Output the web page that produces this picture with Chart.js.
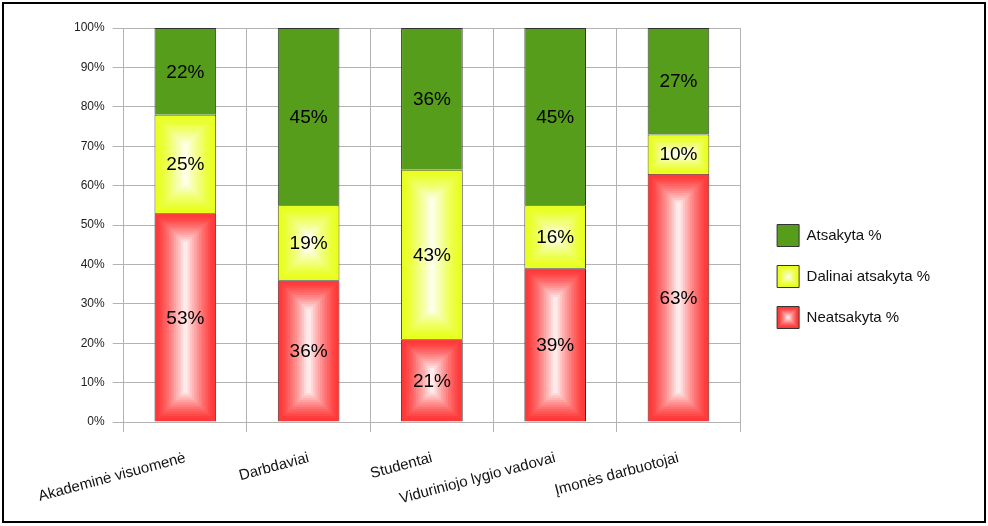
<!DOCTYPE html>
<html lang="lt">
<head>
    <meta charset="UTF-8">
    <title>Atsakymai</title>
    <script src="https://cdn.jsdelivr.net/npm/chart.js"></script>
    <style>
        body { margin: 0; background: #fff; }
        .wrap { position: relative; width: 988px; height: 526px; }
        .frame {
            position: absolute; left: 2px; top: 2px;
            width: 980px; height: 517px;
            border: 2px solid #000;
            pointer-events: none;
        }
    </style>
</head>
<body>
    <div class="wrap">
        <canvas id="chart" width="988" height="526"></canvas>
        <div class="frame"></div>
    </div>

    <script>
        const categories = ['Akademinė visuomenė', 'Darbdaviai', 'Studentai', 'Viduriniojo lygio vadovai', 'Įmonės darbuotojai'];
        const neatsakyta = [53, 36, 21, 39, 63];
        const dalinai = [25, 19, 43, 16, 10];
        const atsakyta = [22, 45, 36, 45, 27];
        const yTicks = [0, 10, 20, 30, 40, 50, 60, 70, 80, 90, 100];

        const FONT = '"Liberation Sans", Arial, sans-serif';

        // edge colour -> white, drawn as nested rectangles inside each bar
        function mix(c, t) {
            return 'rgb(' + c.map(v => Math.round(v + (255 - v) * t)).join(',') + ')';
        }

        function boxGradient(ctx, left, top, w, h, edge) {
            const steps = 13;
            const half = Math.min(w, h) / 2;
            for (let i = 0; i <= steps; i++) {
                const d = half * i / steps;
                const rw = w - 2 * d, rh = h - 2 * d;
                if (rw <= 0 || rh <= 0) break;
                ctx.fillStyle = mix(edge, Math.pow(i / steps, 1.3));
                ctx.fillRect(left + d, top + d, rw, Math.max(rh, 1));
            }
        }

        const gradientBars = {
            id: 'gradientBars',
            afterDatasetDraw(chart, args) {
                const ds = chart.data.datasets[args.index];
                if (!ds.edge) return;
                const ctx = chart.ctx;
                ctx.save();
                args.meta.data.forEach(el => {
                    const p = el.getProps(['x', 'y', 'base', 'width'], true);
                    const left = p.x - p.width / 2 + 1;
                    const top = Math.min(p.y, p.base) + 1;
                    boxGradient(ctx, left, top, p.width - 2, Math.abs(p.base - p.y) - 2, ds.edge);
                });
                ctx.restore();
            },
            afterDraw(chart) {
                // gradient legend boxes
                const legend = chart.legend;
                if (!legend || !legend.legendHitBoxes) return;
                const ctx = chart.ctx;
                ctx.save();
                legend.legendItems.forEach((item, i) => {
                    const ds = chart.data.datasets[item.datasetIndex];
                    const hb = legend.legendHitBoxes[i];
                    if (!ds.edge || !hb) return;
                    const bw = legend.options.labels.boxWidth;
                    const bh = legend.options.labels.boxHeight;
                    const top = hb.top + (hb.height - bh) / 2;
                    boxGradient(ctx, hb.left + 1, top + 1, bw - 2, bh - 2, ds.edge);
                });
                ctx.restore();
            }
        };

        const valueLabels = {
            id: 'valueLabels',
            afterDatasetsDraw(chart) {
                const ctx = chart.ctx;
                ctx.save();
                ctx.font = '19px ' + FONT;
                ctx.fillStyle = '#000';
                ctx.textAlign = 'center';
                ctx.textBaseline = 'middle';
                chart.data.datasets.forEach((ds, di) => {
                    chart.getDatasetMeta(di).data.forEach((el, i) => {
                        const c = el.getCenterPoint();
                        ctx.fillText(ds.data[i] + '%', c.x, c.y + 1);
                    });
                });
                ctx.restore();
            }
        };

        new Chart(document.getElementById('chart'), {
            type: 'bar',
            data: {
                labels: categories,
                datasets: [
                    {
                        label: 'Neatsakyta %',
                        data: neatsakyta,
                        backgroundColor: '#ff3838',
                        edge: [255, 56, 56],
                        borderColor: '#333',
                        borderWidth: 1
                    },
                    {
                        label: 'Dalinai atsakyta %',
                        data: dalinai,
                        backgroundColor: '#e8ff1e',
                        edge: [232, 255, 30],
                        borderColor: '#333',
                        borderWidth: 1
                    },
                    {
                        label: 'Atsakyta %',
                        data: atsakyta,
                        backgroundColor: '#579d1c',
                        borderColor: '#333',
                        borderWidth: 1
                    }
                ]
            },
            options: {
                responsive: false,
                animation: false,
                barPercentage: 0.5,
                categoryPercentage: 1,
                layout: { padding: { left: 66, right: 48, top: 28, bottom: 1 } },
                plugins: {
                    tooltip: { enabled: false },
                    legend: {
                        position: 'right',
                        reverse: true,
                        maxWidth: 220,
                        labels: {
                            boxWidth: 22,
                            boxHeight: 22,
                            padding: 19,
                            color: '#111',
                            font: { family: FONT, size: 15 }
                        }
                    }
                },
                scales: {
                    x: {
                        stacked: true,
                        grid: { color: '#b3b3b3', tickLength: 10, offset: true },
                        border: { color: '#b3b3b3' },
                        ticks: {
                            color: '#111',
                            minRotation: 15,
                            maxRotation: 15,
                            padding: 17,
                            font: { family: FONT, size: 15 }
                        }
                    },
                    y: {
                        stacked: true,
                        min: 0,
                        max: 100,
                        afterBuildTicks: axis => { axis.ticks = yTicks.map(v => ({ value: v })); },
                        grid: { color: '#b3b3b3', tickLength: 11 },
                        border: { color: '#b3b3b3' },
                        ticks: {
                            color: '#222',
                            padding: 8,
                            font: { family: FONT, size: 12 },
                            callback: v => v + '%'
                        }
                    },
                    // empty spacer between plot and legend
                    gap: {
                        type: 'linear',
                        position: 'right',
                        grid: { display: false, drawTicks: false },
                        border: { display: false },
                        ticks: { display: false },
                        afterFit: s => { s.width = 18; }
                    }
                }
            },
            plugins: [gradientBars, valueLabels]
        });
    </script>
</body>
</html>
